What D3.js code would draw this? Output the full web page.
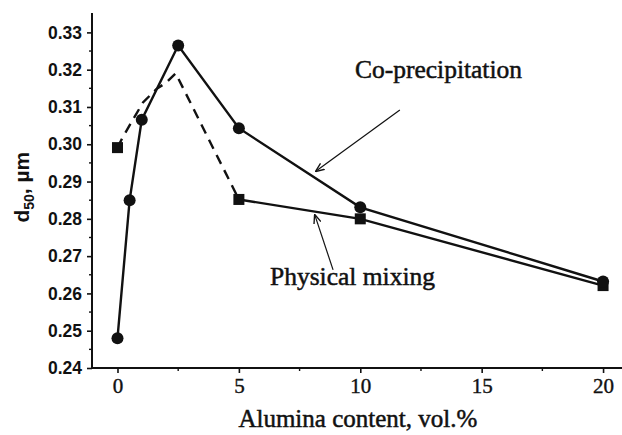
<!DOCTYPE html>
<html>
<head>
<meta charset="utf-8">
<script src="https://cdn.jsdelivr.net/npm/d3@7"></script>
<style>
body { margin: 0; background: #fff; }
</style>
</head>
<body>
<script>
// co-precipitation (circles, solid line)
var coX = [0, 0.5, 1, 2.5, 5, 10, 20];
var coY = [0.248, 0.285, 0.3066, 0.3265, 0.3043, 0.2831, 0.2632];
// physical mixing (squares)
var pmX = [0, 5, 10, 20];
var pmY = [0.2991, 0.2852, 0.2800, 0.2621];
// dashed trend drawn through the physical mixing low end
var dashX = [0, 0.2, 0.6, 1.05, 1.6, 2.0, 2.4, 5];
var dashY = [0.2991, 0.3017, 0.3062, 0.3112, 0.3148, 0.3165, 0.3190, 0.2852];

var xTicks = [0, 5, 10, 15, 20];
var yTicks = [0.24, 0.25, 0.26, 0.27, 0.28, 0.29, 0.30, 0.31, 0.32, 0.33];

var W = 622, H = 435;
var mLeft = 92, mRight = 622, mTop = 13, mBottom = 368;
var serif = "'Liberation Serif', 'Times New Roman', serif";
var sans = "'Liberation Sans', Arial, sans-serif";

var svg = d3.select("body").append("svg")
	.attr("width", W)
	.attr("height", H)

var x = d3.scaleLinear().domain([-1.05, 20.78]).range([mLeft, mRight]);
var y = d3.scaleLinear().domain([0.24, 0.3352]).range([mBottom, mTop]);

// axes
var xAxis = d3.axisBottom(x).tickValues(xTicks).tickSize(5).tickPadding(5).tickFormat(d3.format("d"));
var yAxis = d3.axisLeft(y).tickValues(yTicks).tickSize(5).tickPadding(5).tickFormat(d3.format(".2f"));

var gx = svg.append("g").attr("transform", "translate(0," + mBottom + ")").call(xAxis);
var gy = svg.append("g").attr("transform", "translate(" + mLeft + ",0)").call(yAxis);

[gx, gy].forEach(function(g) {
	g.select(".domain").attr("stroke", "#111").attr("stroke-width", 2);
	g.selectAll(".tick line").attr("stroke", "#111").attr("stroke-width", 1.6);
});
gx.select(".domain").attr("d", "M" + mLeft + ",0H" + mRight);
gy.select(".domain").attr("d", "M0," + mTop + "V" + mBottom);

gx.selectAll(".tick text")
	.attr("font-family", serif)
	.attr("font-size", 21)
	.attr("fill", "#111")
	.attr("stroke", "#111")
	.attr("stroke-width", 0.4);
gy.selectAll(".tick text")
	.attr("font-family", sans)
	.attr("font-weight", "bold")
	.attr("font-size", 17.5)
	.attr("fill", "#111");

// minor ticks
var xMinor = [2.5, 7.5, 12.5, 17.5];
var yMinor = yTicks.slice(0, -1).map(d => d + 0.005);
svg.append("g").selectAll("line").data(xMinor).enter().append("line")
	.attr("x1", d => x(d)).attr("x2", d => x(d))
	.attr("y1", mBottom).attr("y2", mBottom + 3)
	.attr("stroke", "#111").attr("stroke-width", 1.4);
svg.append("g").selectAll("line").data(yMinor).enter().append("line")
	.attr("x1", mLeft - 3).attr("x2", mLeft)
	.attr("y1", d => y(d)).attr("y2", d => y(d))
	.attr("stroke", "#111").attr("stroke-width", 1.4);

// axis titles
svg.append("text")
	.attr("x", x(9.9)).attr("y", 427)
	.attr("text-anchor", "middle")
	.attr("font-family", serif)
	.attr("font-size", 25)
	.attr("fill", "#111")
	.attr("stroke", "#111")
	.attr("stroke-width", 0.5)
	.text("Alumina content, vol.%");

var yt = svg.append("text")
	.attr("transform", "translate(29," + y(0.2885) + ") rotate(-90)")
	.attr("text-anchor", "middle")
	.attr("font-family", sans)
	.attr("font-weight", "bold")
	.attr("font-size", 21)
	.attr("fill", "#111");
yt.append("tspan").text("d");
yt.append("tspan").attr("font-size", 14).attr("dy", 5).text("50");
yt.append("tspan").attr("dy", -5).text(", \u00b5m");

// lines
var line = d3.line().x(d => x(d[0])).y(d => y(d[1]));

svg.append("path")
	.datum(d3.zip(dashX, dashY))
	.attr("d", line)
	.attr("fill", "none")
	.attr("stroke", "#111")
	.attr("stroke-width", 2.4)
	.attr("stroke-dasharray", "10,7");

svg.append("path")
	.datum(d3.zip(pmX, pmY).slice(1))
	.attr("d", line)
	.attr("fill", "none")
	.attr("stroke", "#111")
	.attr("stroke-width", 2.4);

svg.append("path")
	.datum(d3.zip(coX, coY))
	.attr("d", line)
	.attr("fill", "none")
	.attr("stroke", "#111")
	.attr("stroke-width", 2.4);

svg.append("g").selectAll("rect").data(d3.zip(pmX, pmY)).enter().append("rect")
	.attr("x", d => x(d[0]) - 5.5)
	.attr("y", d => y(d[1]) - 5.5)
	.attr("width", 11)
	.attr("height", 11)
	.attr("fill", "#111");

svg.append("g").selectAll("circle").data(d3.zip(coX, coY)).enter().append("circle")
	.attr("cx", d => x(d[0]))
	.attr("cy", d => y(d[1]))
	.attr("r", 6)
	.attr("fill", "#111");

// annotations
svg.append("defs").append("marker")
	.attr("id", "head")
	.attr("viewBox", "0 0 10 10")
	.attr("refX", 9).attr("refY", 5)
	.attr("markerWidth", 9).attr("markerHeight", 9)
	.attr("markerUnits", "userSpaceOnUse")
	.attr("orient", "auto")
	.append("path")
	.attr("d", "M0,1L10,5L0,9")
	.attr("fill", "none")
	.attr("stroke", "#111")
	.attr("stroke-width", 1.5);

var notes = [
	{text: "Co-precipitation", tx: 9.78, ty: 0.3177, from: [11.63, 0.3092], to: [8.18, 0.2928]},
	{text: "Physical mixing", tx: 6.28, ty: 0.2623, from: [8.88, 0.2663], to: [8.13, 0.2810]}
];

svg.append("g").selectAll("line").data(notes).enter().append("line")
	.attr("x1", d => x(d.from[0])).attr("y1", d => y(d.from[1]))
	.attr("x2", d => x(d.to[0])).attr("y2", d => y(d.to[1]))
	.attr("stroke", "#111")
	.attr("stroke-width", 1.2)
	.attr("marker-end", "url(#head)");

svg.append("g").selectAll("text").data(notes).enter().append("text")
	.attr("x", d => x(d.tx)).attr("y", d => y(d.ty))
	.attr("font-family", serif)
	.attr("font-size", 25.5)
	.attr("fill", "#111")
	.attr("stroke", "#111")
	.attr("stroke-width", 0.5)
	.text(d => d.text);
</script>
</body>
</html>
